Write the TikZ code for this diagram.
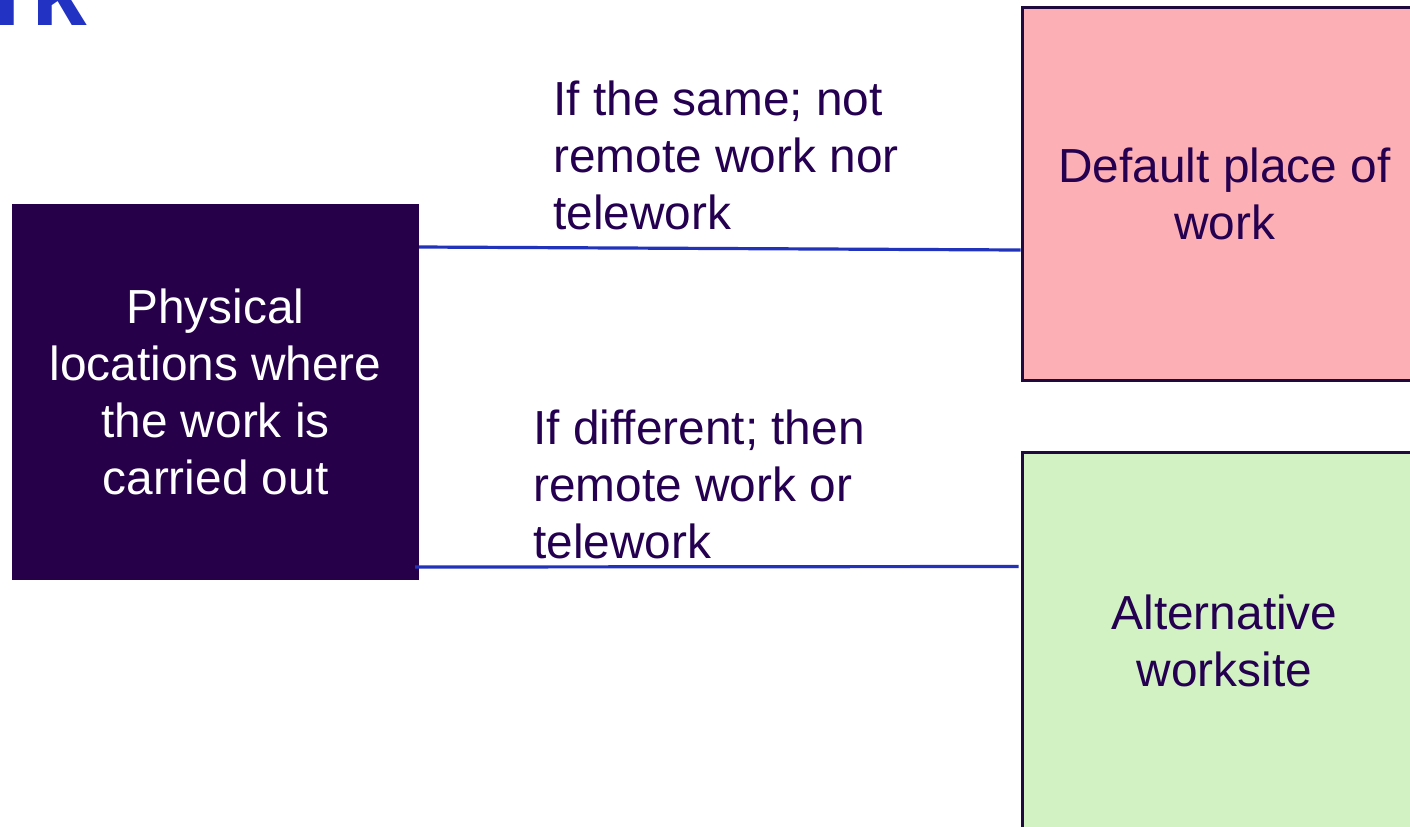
\documentclass[tikz,border=0pt]{standalone}
\usepackage{fontspec}
\setmainfont{Liberation Sans}
\usetikzlibrary{calc}
\definecolor{deep}{HTML}{260049}
\definecolor{edge}{HTML}{1E0A3C}
\definecolor{txt}{HTML}{250050}
\definecolor{pinkf}{HTML}{FCAFB4}
\definecolor{greenf}{HTML}{D2F2C4}
\definecolor{link}{HTML}{2233BB}
\definecolor{ttl}{HTML}{2233C4}
\begin{document}
\begin{tikzpicture}[x=0.5pt,y=-0.5pt,
  body/.style={font=\fontsize{23.9}{28.5}\selectfont, align=center},
  boxbase/.style={draw=edge, line width=1.5pt, inner sep=0pt},
  lbl/.style={font=\fontsize{23.9}{28.5}\selectfont, align=left, text=txt, inner sep=0pt, anchor=west},
  conn/.style={draw=link, line width=1.6pt}]
\useasboundingbox (0,0) rectangle (1410,826);
\clip (0,0) rectangle (1410,826);
% cut-off title
\node[font=\fontsize{50}{60}\selectfont\bfseries, text=ttl, anchor=base east, inner sep=0pt] (title) at (88,25) {rk};
% boxes
\node[boxbase, draw=deep, fill=deep, minimum width=202pt, minimum height=186.5pt, text=white, body] (phys) at (215.5,392) {Physical\\locations where\\the work is\\carried out};
\node[boxbase, fill=pinkf, minimum width=202.5pt, minimum height=186.5pt, text=txt, body] (deflt) at (1224.5,194) {Default place of\\work};
\node[boxbase, fill=greenf, minimum width=202.5pt, minimum height=189pt, text=txt, body] (alt) at (1224.5,641) {Alternative\\worksite};
% labels
\node[lbl] (same) at (553,155) {If the same; not\\remote work nor\\telework};
\node[lbl] (diff) at (533,484) {If different; then\\remote work or\\telework};
% connectors
\coordinate (p1) at ($(phys.north east)+(0,43)$);
\coordinate (p2) at ($(phys.south east)+(-4,-13)$);
\coordinate (q1) at ($(deflt.west)+(0,56)$);
\coordinate (q2) at ($(alt.north west)+(-2,116)$);
\draw[conn] (p1) -- (q1);
\draw[conn] (p2) -- (q2);
\end{tikzpicture}
\end{document}
